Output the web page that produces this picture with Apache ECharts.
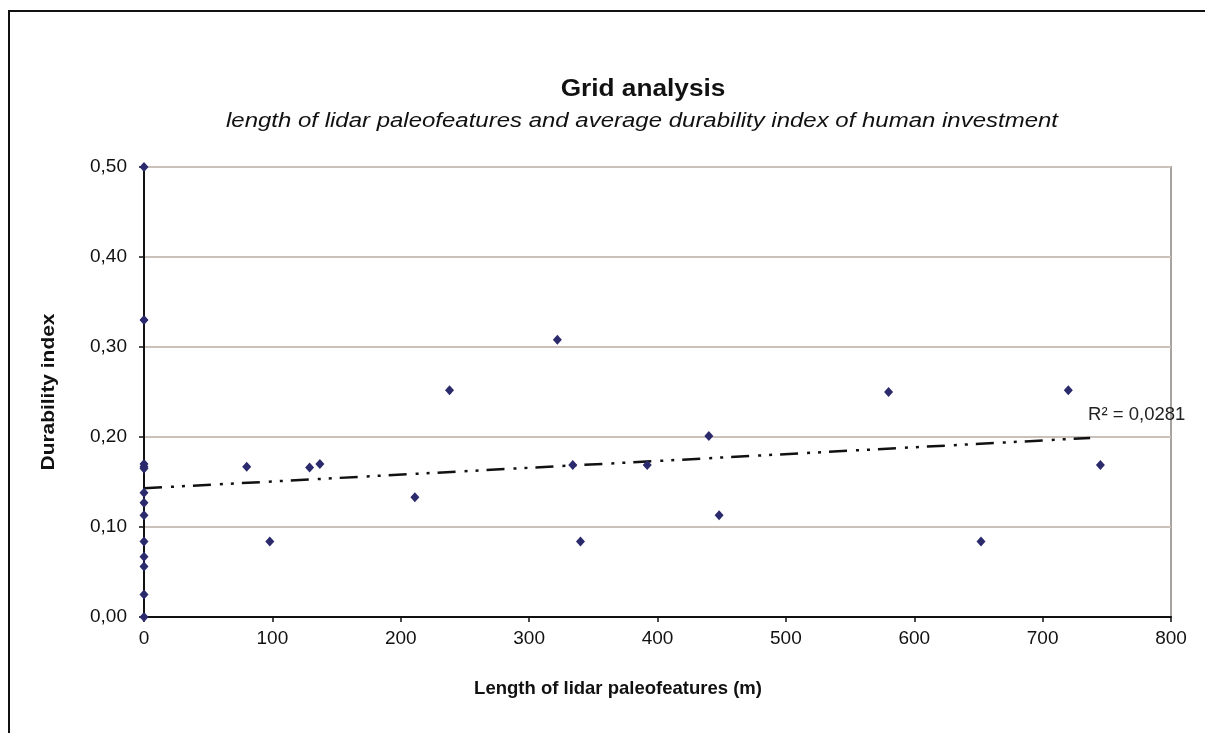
<!DOCTYPE html>
<html>
<head>
<meta charset="utf-8">
<title>Grid analysis</title>
<script src="https://cdn.jsdelivr.net/npm/echarts@6/dist/echarts.min.js"></script>
<style>
    html, body { margin: 0; padding: 0; background: #fff; }
    #chart { width: 1205px; height: 733px; }
</style>
</head>
<body>
<div id="chart"></div>
<script>
// length of lidar paleofeatures (m) per grid cell
const lengthM = [
    0, 0, 0, 0, 0, 0, 0, 0, 0, 0, 0, 0, 0,
    80, 98, 129, 137, 211, 238, 322, 334, 340, 392, 440, 448, 580, 652, 720, 745
]
// average durability index per grid cell
const durability = [
    0.50, 0.33, 0.17, 0.167, 0.165, 0.138, 0.127, 0.113, 0.084, 0.067, 0.056, 0.025, 0.00,
    0.167, 0.084, 0.166, 0.170, 0.133, 0.252, 0.308, 0.169, 0.084, 0.169, 0.201, 0.113, 0.250, 0.084, 0.252, 0.169
]
// linear trendline
const trendX = [0, 737]
const trendY = [0.143, 0.199]
const r2Label = 'R² = 0,0281'

const xTicks = [0, 100, 200, 300, 400, 500, 600, 700, 800]
const yTicks = [0, 0.1, 0.2, 0.3, 0.4, 0.5]

const FONT = 'Arial, "Liberation Sans", sans-serif'

const chart = echarts.init(document.getElementById('chart'))

const points = lengthM.map((x, i) => [x, durability[i]])
const trend = trendX.map((x, i) => [x, trendY[i]])

chart.setOption({
    animation: false,
    backgroundColor: '#fff',
    graphic: [
        {
            // outer chart frame (runs off the picture to the right and bottom)
            type: 'rect',
            shape: { x: 9, y: 11, width: 1300, height: 800 },
            style: { fill: 'none', stroke: '#111', lineWidth: 2 },
            silent: true
        },
        // the titles in the picture are a bit wider than Arial, so stretch them
        {
            type: 'text',
            x: 643, y: 90, scaleX: 1.14,
            style: { text: 'Grid analysis', font: 'bold 23px ' + FONT, fill: '#111', align: 'center', verticalAlign: 'middle' }
        },
        {
            type: 'text',
            x: 642, y: 121, scaleX: 1.17,
            style: {
                text: 'length of lidar paleofeatures and average durability index of human investment',
                font: 'italic 20.5px ' + FONT, fill: '#111', align: 'center', verticalAlign: 'middle'
            }
        },
        {
            type: 'text',
            x: 618, y: 689,
            style: { text: 'Length of lidar paleofeatures (m)', font: 'bold 18.5px ' + FONT, fill: '#111', align: 'center', verticalAlign: 'middle' }
        },
        {
            type: 'text',
            x: 49, y: 392, rotation: Math.PI / 2, scaleX: 1.1,
            style: { text: 'Durability index', font: 'bold 19px ' + FONT, fill: '#111', align: 'center', verticalAlign: 'middle' }
        }
    ],
    grid: {
        left: 144, top: 167, right: 34, bottom: 116,
        show: true, borderColor: '#a9a3a0', borderWidth: 2, backgroundColor: '#fff'
    },
    xAxis: {
        type: 'value',
        min: xTicks[0], max: xTicks[xTicks.length - 1], interval: 100,
        axisLine: { show: true, onZero: false, lineStyle: { color: '#111', width: 2 } },
        axisTick: { show: true, inside: false, length: 5, lineStyle: { color: '#111', width: 1.5 } },
        axisLabel: { fontFamily: FONT, fontSize: 19, color: '#111', margin: 12 },
        splitLine: { show: false }
    },
    yAxis: {
        type: 'value',
        min: yTicks[0], max: yTicks[yTicks.length - 1], interval: 0.1,
        axisLine: { show: true, onZero: false, lineStyle: { color: '#111', width: 2 } },
        axisTick: { show: true, inside: false, length: 5, lineStyle: { color: '#111', width: 1.5 } },
        axisLabel: {
            fontFamily: FONT, fontSize: 19, color: '#111', margin: 17,
            formatter: v => v.toFixed(2).replace('.', ',')
        },
        splitLine: { show: true, lineStyle: { color: '#c9c1ba', width: 2 } }
    },
    series: [
        {
            type: 'line',
            data: trend,
            symbol: 'none',
            z: 3,
            lineStyle: { color: '#111', width: 2.5, type: [18, 9, 3, 8, 3, 8] },
            endLabel: {
                show: true,
                formatter: r2Label,
                fontFamily: FONT, fontSize: 18.5, color: '#222',
                offset: [-2, -23],
                distance: 0
            }
        },
        {
            type: 'scatter',
            data: points,
            symbol: 'diamond',
            symbolSize: [9, 10],
            z: 4,
            itemStyle: { color: '#2b2a6c', opacity: 1 }
        }
    ]
})
</script>
</body>
</html>
